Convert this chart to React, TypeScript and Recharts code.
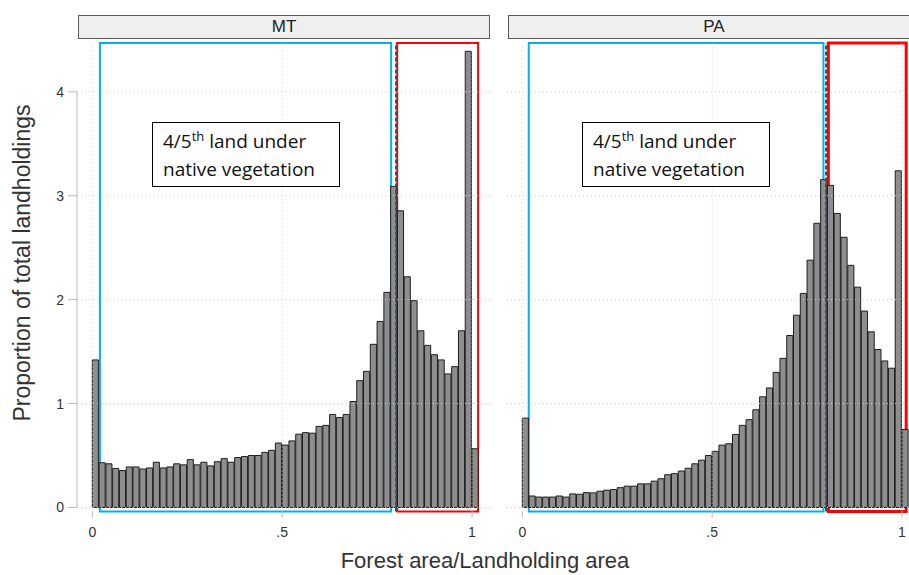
import { BarChart, Bar, XAxis, YAxis, ReferenceLine, ReferenceArea } from "recharts";

// histogram bins of width 1/56, first bin starts at 0
const binWidth = 1 / 56;

const mtShares = [
  1.42, 0.43, 0.42, 0.375, 0.355, 0.39, 0.39, 0.37, 0.38, 0.435,
  0.38, 0.39, 0.42, 0.41, 0.46, 0.41, 0.435, 0.4, 0.44, 0.47,
  0.435, 0.48, 0.49, 0.5, 0.5, 0.53, 0.55, 0.62, 0.6, 0.64,
  0.705, 0.72, 0.715, 0.78, 0.79, 0.895, 0.865, 0.895, 1.02, 1.22,
  1.31, 1.57, 1.79, 2.07, 3.09, 2.855, 2.22, 1.99, 1.7, 1.56,
  1.47, 1.42, 1.285, 1.355, 1.7, 4.39, 0.565,
];

const paShares = [
  0.86, 0.11, 0.1, 0.1, 0.1, 0.11, 0.1, 0.13, 0.127, 0.143,
  0.14, 0.156, 0.166, 0.172, 0.19, 0.205, 0.205, 0.227, 0.227, 0.253,
  0.276, 0.315, 0.325, 0.35, 0.377, 0.42, 0.455, 0.5, 0.54, 0.6,
  0.613, 0.703, 0.79, 0.845, 0.94, 1.065, 1.15, 1.3, 1.435, 1.655,
  1.85, 2.06, 2.38, 2.735, 3.155, 3.1, 2.83, 2.6, 2.33, 2.12,
  1.89, 1.69, 1.52, 1.41, 1.34, 3.24, 0.75,
];

const xTicks = [0, 0.5, 1];
const xTickLabels = ["0", ".5", "1"];
const yTicks = [0, 1, 2, 3, 4];
const cutoff = 0.8;

// plot geometry
const plotW = 414;
const padL = 15.3;
const padR = 12.2;
const yDomain: [number, number] = [-0.04, 4.47];
const unitPx = (plotW - padL - padR) / (mtShares.length * binWidth);
const xDomain: [number, number] = [
  -padL / unitPx,
  mtShares.length * binWidth + padR / unitPx,
];

const BLUE = "#00b0f0";
const RED = "#ff0000";
const FONT = "'Liberation Sans', Arial, sans-serif";

type Box = { x1: number; x2: number; color: string; width: number };

function Panel({
  name,
  values,
  left,
  showY,
  boxes,
}: {
  name: string;
  values: number[];
  left: number;
  showY: boolean;
  boxes: Box[];
}) {
  const data = values.map((v, i) => ({ mid: (i + 0.5) * binWidth, share: v }));
  const yw = showY ? 30 : 0;
  const ml = showY ? 47 : 7;
  const width = ml + yw + plotW + 9;
  const barPx = binWidth * unitPx;

  return (
    <div style={{ position: "absolute", left, top: 0 }}>
      <div
        style={{
          position: "absolute",
          left: ml + yw + 1,
          top: 15,
          width: plotW - 4,
          height: 22,
          background: "#efefef",
          border: "1.5px solid #5a5a5a",
          textAlign: "center",
          fontSize: 17,
          lineHeight: "22px",
          color: "#222",
          fontFamily: FONT,
        }}
      >
        {name}
      </div>
      <BarChart
        width={width}
        height={575}
        data={data}
        margin={{ top: 43, right: 9, bottom: 33.4, left: ml }}
        barCategoryGap={0}
        barGap={0}
        style={{ overflow: "visible" }}
      >
        <XAxis
          dataKey="mid"
          type="number"
          domain={xDomain}
          ticks={xTicks}
          tickFormatter={(v: number) => xTickLabels[xTicks.indexOf(v)]}
          axisLine={false}
          tickLine={{ stroke: "#bbb" }}
          tickSize={6}
          tickMargin={9}
          height={30}
          allowDataOverflow
          tick={{ fontSize: 14, fill: "#333", fontFamily: FONT }}
        />
        <YAxis
          domain={yDomain}
          ticks={yTicks}
          hide={!showY}
          width={30}
          allowDataOverflow
          axisLine={false}
          tickLine={{ stroke: "#bbb" }}
          tickSize={9}
          tickMargin={4}
          tick={{ fontSize: 14, fill: "#333", fontFamily: FONT }}
        />
        {yTicks.map((t) => (
          <ReferenceLine key={"gy" + t} y={t} stroke="#cfcfcf" strokeDasharray="1 3" />
        ))}
        {xTicks.map((t) => (
          <ReferenceLine key={"gx" + t} x={t} stroke="#cfcfcf" strokeDasharray="1 3" />
        ))}
        {showY && (
          <ReferenceLine
            segment={[
              { x: xDomain[0], y: 0 },
              { x: xDomain[0], y: yTicks[yTicks.length - 1] },
            ]}
            stroke="#bbb"
          />
        )}
        <ReferenceLine
          x={cutoff}
          stroke="#3a4a5a"
          strokeWidth={2}
          strokeDasharray="4 2"
        />
        <Bar
          dataKey="share"
          barSize={barPx}
          fill="#8e8e8e"
          stroke="#1e1e1e"
          strokeWidth={1}
          isAnimationActive={false}
        />
        {boxes.map((b, i) => (
          <ReferenceArea
            key={i}
            x1={b.x1}
            x2={b.x2}
            y1={yDomain[0]}
            y2={yDomain[1]}
            fill="none"
            fillOpacity={0}
            stroke={b.color}
            strokeWidth={b.width}
            ifOverflow="visible"
          />
        ))}
      </BarChart>
      <div
        style={{
          position: "absolute",
          left: ml + yw + 75,
          top: 122,
          width: 188,
          height: 65,
          background: "#fff",
          border: "1px solid #000",
          fontFamily: "'Open Sans', sans-serif",
          fontSize: 19,
          lineHeight: "28px",
          color: "#111",
          padding: "4px 0 0 10px",
          boxSizing: "border-box",
          whiteSpace: "nowrap",
        }}
      >
        <div>
          4/5<sup style={{ fontSize: 13, lineHeight: 0 }}>th</sup> land under
        </div>
        <div>native vegetation</div>
      </div>
    </div>
  );
}

export default function App() {
  return (
    <div
      style={{
        position: "absolute",
        left: 0,
        top: 0,
        width: 909,
        height: 575,
        overflow: "hidden",
        background: "#fff",
      }}
    >
      <Panel
        name="MT"
        values={mtShares}
        left={0}
        showY
        boxes={[
          { x1: 0.02, x2: 0.787, color: BLUE, width: 2 },
          { x1: 0.803, x2: 1.016, color: RED, width: 2 },
        ]}
      />
      <Panel
        name="PA"
        values={paShares}
        left={500}
        showY={false}
        boxes={[
          { x1: 0.017, x2: 0.793, color: BLUE, width: 2 },
          { x1: 0.806, x2: 1.011, color: RED, width: 3 },
        ]}
      />
      <div
        style={{
          position: "absolute",
          left: 22,
          top: 263,
          transform: "translate(-50%, -50%) rotate(-90deg)",
          whiteSpace: "nowrap",
          fontSize: 23,
          color: "#333",
          fontFamily: FONT,
        }}
      >
        Proportion of total landholdings
      </div>
      <div
        style={{
          position: "absolute",
          left: 485,
          top: 561,
          transform: "translate(-50%, -50%)",
          whiteSpace: "nowrap",
          fontSize: 22,
          lineHeight: "24px",
          color: "#333",
          fontFamily: FONT,
        }}
      >
        Forest area/Landholding area
      </div>
    </div>
  );
}
